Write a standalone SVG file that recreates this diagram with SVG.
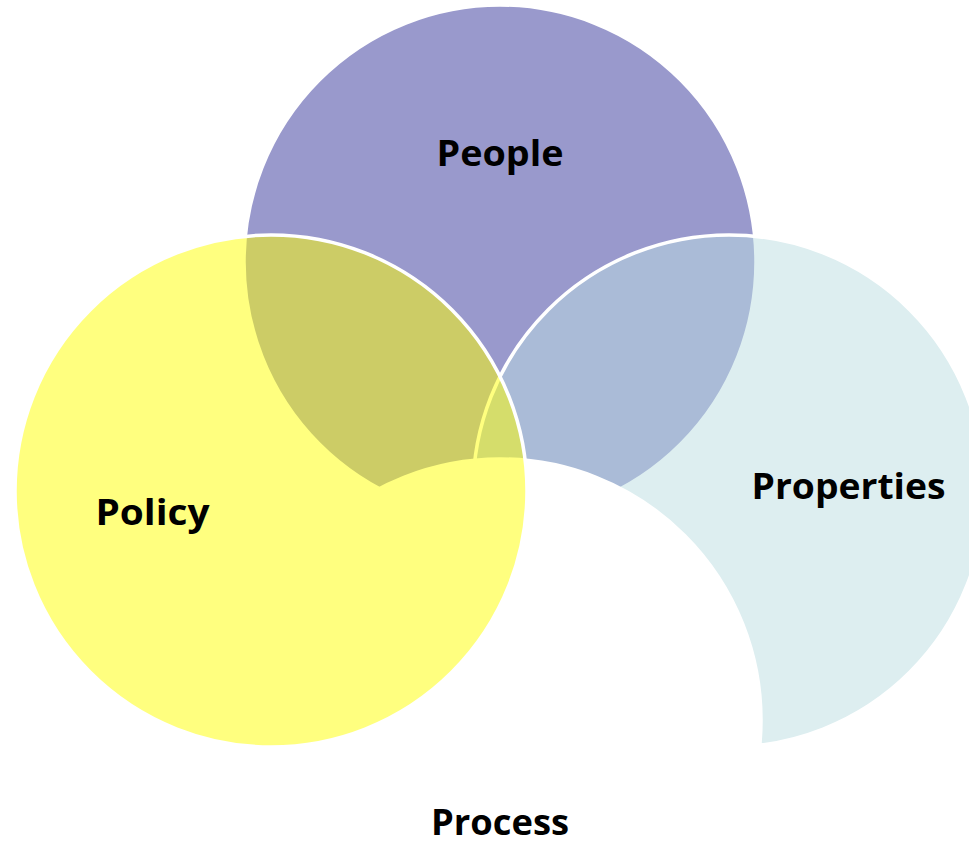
<svg xmlns="http://www.w3.org/2000/svg" width="969" height="845" viewBox="0 0 969 845">
<style>
.c{stroke:#ffffff;stroke-width:3.5}
.lbl{font-family:"Open Sans","Liberation Sans",sans-serif;font-weight:bold;font-size:36px;fill:#000000;text-anchor:middle}
</style>
<rect width="969" height="845" fill="#ffffff"/>
<g id="people">
<ellipse class="c" cx="500" cy="262" rx="256" ry="257" fill="#9999CC"/>
<text class="lbl" x="500" y="166" textLength="127" lengthAdjust="spacingAndGlyphs">People</text>
</g>
<g id="properties">
<circle class="c" cx="729" cy="491" r="256" fill="#BBDDE1" fill-opacity="0.5"/>
<text class="lbl" x="848.5" y="499" textLength="194" lengthAdjust="spacingAndGlyphs">Properties</text>
</g>
<g id="process">
<circle class="c" cx="500" cy="720" r="261" fill="#ffffff"/>
<text class="lbl" x="500" y="835" textLength="138" lengthAdjust="spacingAndGlyphs">Process</text>
</g>
<g id="policy">
<circle class="c" cx="271" cy="491" r="256" fill="#FFFF00" fill-opacity="0.5"/>
<text class="lbl" x="152.5" y="525" textLength="114" lengthAdjust="spacingAndGlyphs">Policy</text>
</g>
<g id="connectors"/>
</svg>
